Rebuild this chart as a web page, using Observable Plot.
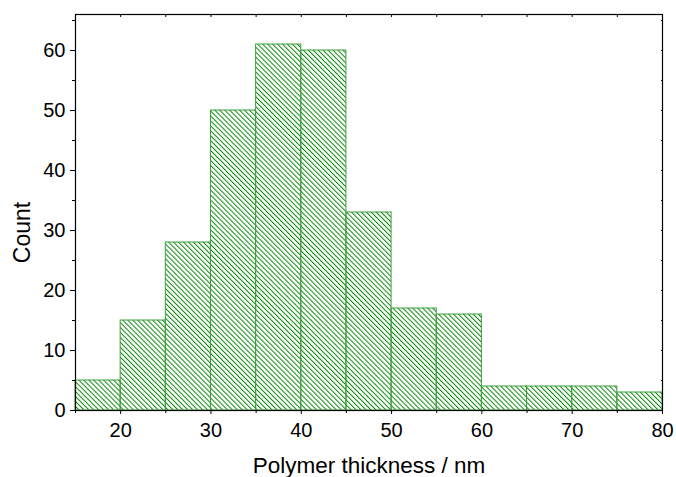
<!DOCTYPE html>
<html>
<head>
<meta charset="utf-8">
<script src="https://cdn.jsdelivr.net/npm/d3@7"></script>
<script src="https://cdn.jsdelivr.net/npm/@observablehq/plot@0.6"></script>
<style>
  body { margin: 0; background: #fff; }
</style>
</head>
<body>
<div id="chart"></div>
<script>
// Histogram of polymer thickness (nm), 5 nm bins
const binStarts = [15, 20, 25, 30, 35, 40, 45, 50, 55, 60, 65, 70, 75];
const binWidth = 5;
const counts = [5, 15, 28, 50, 61, 60, 33, 17, 16, 4, 4, 4, 3];

const xMajorTicks = [20, 30, 40, 50, 60, 70, 80];
const xMinorTicks = [15, 25, 35, 45, 55, 65, 75];
const xFrameTicks = [15, 20, 25, 30, 35, 40, 45, 50, 55, 60, 65, 70, 75, 80];
const yMajorTicks = [0, 10, 20, 30, 40, 50, 60];
const yMinorTicks = [5, 15, 25, 35, 45, 55, 65];
const yFrameTicks = [0, 5, 10, 15, 20, 25, 30, 35, 40, 45, 50, 55, 60, 65];

const xLabel = "Polymer thickness / nm";
const yLabel = "Count";

const bins = binStarts.map((x0, i) => ({x1: x0, x2: x0 + binWidth, count: counts[i]}));

// Diagonal hatch fill for the bars
const hatchDefs = () => {
  const defs = d3.create("svg:defs");
  const p = defs.append("pattern")
    .attr("id", "hatch")
    .attr("patternUnits", "userSpaceOnUse")
    .attr("width", 3.5)
    .attr("height", 3.5)
    .attr("patternTransform", "rotate(-45)");
  p.append("line")
    .attr("x1", 0.5).attr("y1", -1)
    .attr("x2", 0.5).attr("y2", 4.5)
    .attr("stroke", "#0a870a")
    .attr("stroke-width", 1);
  return defs.node();
};

const chart = Plot.plot({
  width: 676,
  height: 477,
  marginLeft: 75,
  marginRight: 14,
  marginTop: 14,
  marginBottom: 67,
  style: {fontFamily: "'Liberation Sans', Arial, sans-serif", fontSize: "20px", color: "#000", background: "#fff"},
  x: {domain: [15, 80]},
  y: {domain: [0, 66]},
  marks: [
    hatchDefs,
    Plot.rectY(bins, {x1: "x1", x2: "x2", y: "count", fill: "url(#hatch)", stroke: "#3d9e3d", strokeWidth: 1}),
    Plot.frame({stroke: "#000", strokeWidth: 1.2}),
    // bottom axis
    Plot.axisX({ticks: xMajorTicks, tickSize: 4, tickPadding: 8, label: null, fontSize: 20, tickFormat: d => d}),
    Plot.axisX({ticks: xMinorTicks, tickSize: 3, text: null, label: null}),
    // top frame ticks (inward)
    Plot.axisX({anchor: "top", ticks: xFrameTicks, tickSize: -2, text: null, label: null}),
    // left axis
    Plot.axisY({ticks: yMajorTicks, tickSize: 5, tickPadding: 5, label: null, fontSize: 20, tickFormat: d => d}),
    Plot.axisY({ticks: yMinorTicks, tickSize: 3, text: null, label: null}),
    // right frame ticks (inward)
    Plot.axisY({anchor: "right", ticks: yFrameTicks, tickSize: -2, text: null, label: null}),
    // axis titles
    Plot.text([xLabel], {frameAnchor: "bottom", dy: 55.5, lineAnchor: "middle", fontSize: 22.5, fill: "#000"}),
    Plot.text([yLabel], {frameAnchor: "left", rotate: -90, textAnchor: "middle", dx: -53, dy: 20, lineAnchor: "middle", fontSize: 23, fill: "#000"})
  ]
});

document.getElementById("chart").appendChild(chart);
</script>
</body>
</html>
